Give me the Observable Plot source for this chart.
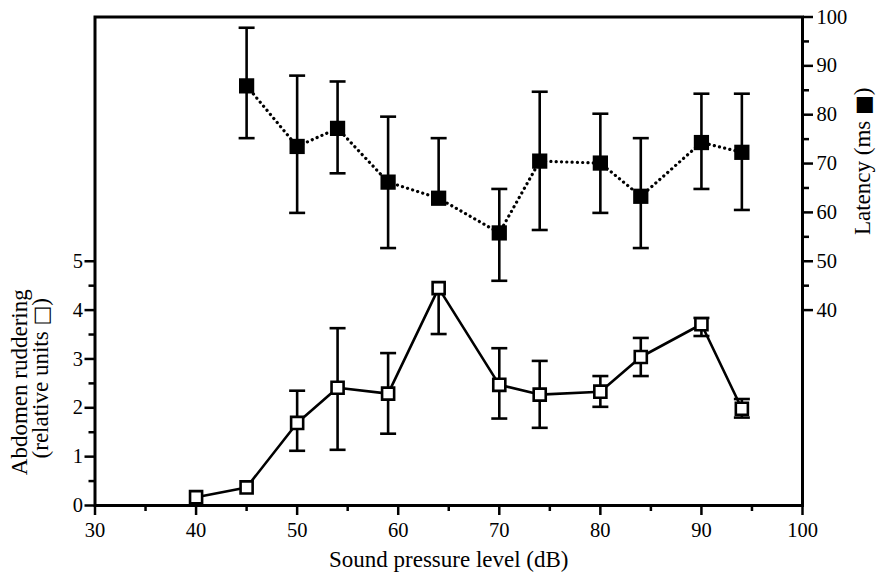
<!DOCTYPE html>
<html><head><meta charset="utf-8">
<script src="https://cdn.jsdelivr.net/npm/d3@7"></script>
<script src="https://cdn.jsdelivr.net/npm/@observablehq/plot@0.6"></script>
<style>body{margin:0;background:#fff;}</style>
</head><body><div id="chart"></div>
<script>
// Latency (filled squares, right axis, ms)
const latencyX = [45, 50, 54, 59, 64, 70, 74, 80, 84, 90, 94];
const latencyMean = [85.9, 73.5, 77.2, 66.2, 62.9, 55.8, 70.5, 70.1, 63.3, 74.3, 72.3];
const latencyHigh = [97.8, 88.0, 86.8, 79.6, 75.2, 64.8, 84.7, 80.2, 75.2, 84.3, 84.3];
const latencyLow  = [75.2, 59.9, 68.0, 52.7, null, 46.0, 56.4, 59.9, 52.7, 64.8, 60.5];

// Abdomen ruddering (open squares, left axis, relative units)
const rudderX = [40, 45, 50, 54, 59, 64, 70, 74, 80, 84, 90, 94];
const rudderMean = [0.17, 0.37, 1.69, 2.41, 2.29, 4.45, 2.47, 2.27, 2.33, 3.04, 3.71, 1.98];
const rudderHigh = [null, null, 2.35, 3.63, 3.12, null, 3.22, 2.96, 2.65, 3.43, 3.84, 2.18];
const rudderLow  = [null, null, 1.12, 1.14, 1.47, 3.51, 1.78, 1.59, 2.02, 2.65, 3.47, 1.80];

const xTicks = [30, 40, 50, 60, 70, 80, 90, 100];
const xMinor = [35, 45, 55, 65, 75, 85, 95];
const leftTicks = [0, 1, 2, 3, 4, 5];
const leftMinor = [0.5, 1.5, 2.5, 3.5, 4.5];
const rightTicks = [40, 50, 60, 70, 80, 90, 100];
const rightMinor = [45, 55, 65, 75, 85, 95];

const RUD = 10; // left axis 0..10 shares the frame with right axis 0..100

const lat = latencyX.map((x, i) => ({x, v: latencyMean[i], hi: latencyHigh[i], lo: latencyLow[i]}));
const rud = rudderX.map((x, i) => ({x, v: rudderMean[i], hi: rudderHigh[i], lo: rudderLow[i]}));

const cap = {draw(ctx, size) { const r = Math.sqrt(size / Math.PI); ctx.moveTo(-r, 0); ctx.lineTo(r, 0); }};
const font = "'Liberation Serif', 'Times New Roman', serif";
const TF = 20.5; // tick font
const LF = 23;   // label font

const chart = Plot.plot({
  width: 876, height: 574,
  marginLeft: 94.5, marginRight: 74, marginTop: 16.5, marginBottom: 69,
  style: {fontFamily: font, fontSize: TF + "px", color: "black", background: "white"},
  x: {domain: [30, 100]},
  y: {domain: [0, 100]},
  marks: [
    Plot.frame({stroke: "black", strokeWidth: 3}),
    Plot.axisX({ticks: xTicks, tickSize: 10, tickPadding: 7, strokeWidth: 2.5, fontSize: TF, label: null}),
    Plot.axisX({ticks: xMinor, tickSize: 6, strokeWidth: 2.5, tickFormat: () => "", label: null}),
    Plot.axisY({anchor: "left", ticks: leftTicks.map(d => d * RUD), tickFormat: d => d / RUD, tickSize: 10, tickPadding: 2, strokeWidth: 2.5, fontSize: TF, label: null}),
    Plot.axisY({anchor: "left", ticks: leftMinor.map(d => d * RUD), tickSize: 6, strokeWidth: 2.5, tickFormat: () => "", label: null}),
    Plot.axisY({anchor: "right", ticks: rightTicks, tickSize: 10, tickPadding: 4, strokeWidth: 2.5, fontSize: TF, label: null}),
    Plot.axisY({anchor: "right", ticks: rightMinor, tickSize: 6, strokeWidth: 2.5, tickFormat: () => "", label: null}),
    // latency
    Plot.line(lat, {x: "x", y: "v", stroke: "black", strokeWidth: 3.2, strokeDasharray: "0.1,5.2", strokeLinecap: "round"}),
    Plot.ruleX(lat, {x: "x", y1: d => d.lo ?? d.v, y2: "hi", stroke: "black", strokeWidth: 2.6}),
    Plot.dot(lat, {x: "x", y: "hi", symbol: cap, r: 8, stroke: "black", strokeWidth: 2.6}),
    Plot.dot(lat.filter(d => d.lo != null), {x: "x", y: "lo", symbol: cap, r: 8, stroke: "black", strokeWidth: 2.6}),
    Plot.dot(lat, {x: "x", y: "v", symbol: "square", r: 8.6, fill: "black", stroke: "none"}),
    // ruddering
    Plot.line(rud, {x: "x", y: d => d.v * RUD, stroke: "black", strokeWidth: 2.6}),
    Plot.ruleX(rud.filter(d => d.hi != null || d.lo != null), {x: "x", y1: d => (d.lo ?? d.v) * RUD, y2: d => (d.hi ?? d.v) * RUD, stroke: "black", strokeWidth: 2.6}),
    Plot.dot(rud.filter(d => d.hi != null), {x: "x", y: d => d.hi * RUD, symbol: cap, r: 8, stroke: "black", strokeWidth: 2.6}),
    Plot.dot(rud.filter(d => d.lo != null), {x: "x", y: d => d.lo * RUD, symbol: cap, r: 8, stroke: "black", strokeWidth: 2.6}),
    Plot.dot(rud, {x: "x", y: d => d.v * RUD, symbol: "square", r: 6.8, fill: "white", stroke: "black", strokeWidth: 2.6}),
    // axis titles
    Plot.text(["Abdomen ruddering"], {text: d => d, frameAnchor: "left", textAnchor: "middle", dx: -75, dy: 121, rotate: -90, fontSize: LF}),
    Plot.text(["(relative units \u25A1)"], {text: d => d, frameAnchor: "left", textAnchor: "middle", dx: -54, dy: 117, rotate: -90, fontSize: LF}),
    Plot.text(["Latency (ms \u25A0)"], {text: d => d, frameAnchor: "right", textAnchor: "middle", dx: 60, dy: -100, rotate: -90, fontSize: LF}),
    Plot.text(["Sound pressure level (dB)"], {text: d => d, frameAnchor: "bottom", textAnchor: "middle", lineAnchor: "bottom", dx: 0, dy: 61, fontSize: LF})
  ]
});
// enlarge the legend-square glyphs inside the axis titles (kept as real text)
d3.select(chart).selectAll("text").each(function() {
  const t = this.textContent;
  const m = t.match(/[\u25A0\u25A1]/);
  if (!m || this.children.length) return;
  const [a, b] = t.split(m[0]);
  this.textContent = "";
  const s = d3.select(this);
  s.append("tspan").text(a);
  s.append("tspan").attr("font-family", "'DejaVu Sans', sans-serif").attr("font-size", 21).text(m[0]);
  s.append("tspan").text(b);
});
document.getElementById("chart").appendChild(chart);
</script>
</body></html>
